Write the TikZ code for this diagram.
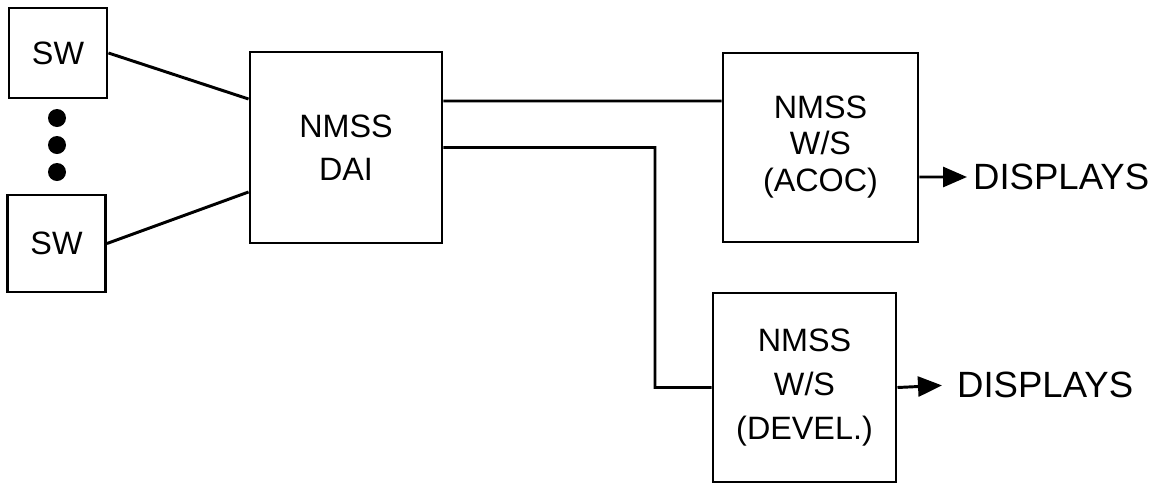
\documentclass[tikz,border=0pt]{standalone}
\usepackage{fontspec}
\setmainfont{Liberation Sans}
\usetikzlibrary{calc,arrows.meta}

\begin{document}
\begin{tikzpicture}[
	line width=2.1pt,
	unit/.style={draw, align=center, inner sep=0pt, font=\fontsize{23}{31}\selectfont},
	outlabel/.style={anchor=west, font=\fontsize{26}{30}\selectfont},
	feed/.style={-{Triangle[length=0.6cm,width=0.5cm]}}]
	\useasboundingbox (0,0) rectangle (28.9,-12.175);
	\node[unit, minimum width=2.45cm, minimum height=2.25cm] (sw1) at (1.45,-1.325) {SW};
	\node[unit, minimum width=2.45cm, minimum height=2.425cm] (sw2) at (1.4125,-6.0875) {SW};
	\node[unit, minimum width=4.8cm, minimum height=4.775cm] (dai) at (8.65,-3.6875) {NMSS\\DAI};
	\node[unit, minimum width=4.875cm, minimum height=4.725cm] (acoc) at (20.5125,-3.6875)
		{\raisebox{.25cm}{\fontsize{23}{26}\selectfont\begin{tabular}{@{}c@{}}NMSS\\W/S\\(ACOC)\end{tabular}}};
	\node[unit, minimum width=4.575cm, minimum height=4.725cm] (devel) at (20.1125,-9.6875) {NMSS\\W/S\\(DEVEL.)};
	\node[outlabel] (disp1) at (24.175,-4.425) {DISPLAYS};
	\node[outlabel] (disp2) at (23.775,-9.625) {DISPLAYS};
	\coordinate (elbow) at (16.375,0);
	% links
	\draw
	(sw1.east)--($(dai.west)+(0,1.2125)$)
	(sw2.east)--($(dai.west)+(0,-1.1125)$)
	($(dai.east)+(0,1.1625)$)--($(acoc.west)+(0,1.1625)$)
	(dai.east)-|(elbow |- devel.west)--(devel.west);
	\draw[feed] ($(acoc.east)+(0,-0.7375)$)--(disp1.west);
	\draw[feed, shorten >=0.225cm] (devel.east)--(disp2.west);
	\foreach \y in {-2.95,-3.625,-4.3} \fill (1.425,\y) circle (.225);
\end{tikzpicture}
\end{document}
